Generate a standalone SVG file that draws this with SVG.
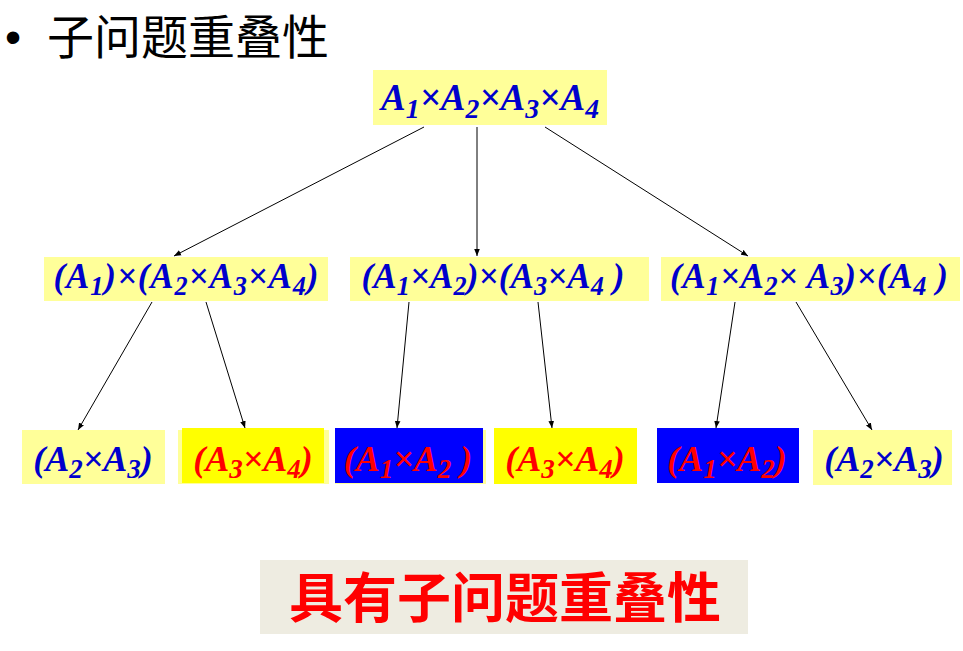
<svg xmlns="http://www.w3.org/2000/svg" width="963" height="651" viewBox="0 0 963 651">
<defs>
<marker id="arr" viewBox="0 0 10 10" refX="10" refY="5" markerWidth="7" markerHeight="7" markerUnits="userSpaceOnUse" orient="auto">
<path d="M0,1 L10,5 L0,9 Z" fill="#000"/>
</marker>
<style>
.m{font-family:"Liberation Serif","Times New Roman",serif;font-weight:bold;font-style:italic;text-anchor:middle}
.b{fill:#0000CC}
.r{fill:#FF0000}
.l1{font-size:37px}
.l2{font-size:35px}
.l3{font-size:36px}
.s{font-size:0.75em}
.pale{fill:#FFFF99}
.yel{fill:#FFFF00}
.blu{fill:#0000FF}
.cn{font-family:"Noto Sans CJK SC","Noto Sans CJK TC",sans-serif}
.conn line{stroke:#000;stroke-width:1;marker-end:url(#arr)}
</style>
</defs>
<rect width="963" height="651" fill="#FFFFFF"/>

<g id="title">
<text x="5" y="53" font-family="Liberation Sans, Arial, sans-serif" font-size="46" fill="#000">•</text>
<text x="47" y="54" class="cn" font-size="47" fill="#000">子问题重叠性</text>
</g>

<g id="n-root">
<rect x="373" y="70" width="234" height="55" class="pale"/>
<text x="490" y="110" class="m b l1" textLength="218">A<tspan class="s" dy="8">1</tspan><tspan dy="-8">×A</tspan><tspan class="s" dy="8">2</tspan><tspan dy="-8">×A</tspan><tspan class="s" dy="8">3</tspan><tspan dy="-8">×A</tspan><tspan class="s" dy="8">4</tspan></text>
</g>

<g id="n-l2a">
<rect x="44" y="257" width="284" height="44" class="pale"/>
<text x="186" y="288" class="m b l2" textLength="265">(A<tspan class="s" dy="7">1</tspan><tspan dy="-7">)×(A</tspan><tspan class="s" dy="7">2</tspan><tspan dy="-7">×A</tspan><tspan class="s" dy="7">3</tspan><tspan dy="-7">×A</tspan><tspan class="s" dy="7">4</tspan><tspan dy="-7">)</tspan></text>
</g>

<g id="n-l2b">
<rect x="350" y="257" width="299" height="44" class="pale"/>
<text x="493" y="288" class="m b l2" textLength="263">(A<tspan class="s" dy="7">1</tspan><tspan dy="-7">×A</tspan><tspan class="s" dy="7">2</tspan><tspan dy="-7">)×(A</tspan><tspan class="s" dy="7">3</tspan><tspan dy="-7">×A</tspan><tspan class="s" dy="7">4</tspan><tspan dy="-7"> )</tspan></text>
</g>

<g id="n-l2c">
<rect x="661" y="257" width="299" height="44" class="pale"/>
<text x="809" y="288" class="m b l2" textLength="278">(A<tspan class="s" dy="7">1</tspan><tspan dy="-7">×A</tspan><tspan class="s" dy="7">2</tspan><tspan dy="-7">× A</tspan><tspan class="s" dy="7">3</tspan><tspan dy="-7">)×(A</tspan><tspan class="s" dy="7">4</tspan><tspan dy="-7"> )</tspan></text>
</g>

<g id="n-l3a">
<rect x="22" y="430" width="143" height="54" class="pale"/>
<text x="93" y="471" class="m b l3">(A<tspan class="s" dy="7">2</tspan><tspan dy="-7">×A</tspan><tspan class="s" dy="7">3</tspan><tspan dy="-7">)</tspan></text>
</g>

<g id="n-l3b">
<rect x="178" y="430" width="151" height="54" class="pale"/>
<rect x="182" y="428" width="142" height="55" class="yel"/>
<text x="253" y="471" class="m r l3">(A<tspan class="s" dy="7">3</tspan><tspan dy="-7">×A</tspan><tspan class="s" dy="7">4</tspan><tspan dy="-7">)</tspan></text>
</g>

<g id="n-l3c">
<rect x="335" y="430" width="151" height="54" class="pale"/>
<rect x="335" y="428" width="148" height="55" class="blu"/>
<text x="408" y="471" class="m r l3">(A<tspan class="s" dy="7">1</tspan><tspan dy="-7">×A</tspan><tspan class="s" dy="7">2</tspan><tspan dy="-7"> )</tspan></text>
</g>

<g id="n-l3d">
<rect x="494" y="428" width="143" height="56" class="yel"/>
<text x="565" y="471" class="m r l3">(A<tspan class="s" dy="7">3</tspan><tspan dy="-7">×A</tspan><tspan class="s" dy="7">4</tspan><tspan dy="-7">)</tspan></text>
</g>

<g id="n-l3e">
<rect x="657" y="428" width="142" height="55" class="blu"/>
<text x="727" y="471" class="m r l3">(A<tspan class="s" dy="7">1</tspan><tspan dy="-7">×A</tspan><tspan class="s" dy="7">2</tspan><tspan dy="-7">)</tspan></text>
</g>

<g id="n-l3f">
<rect x="813" y="430" width="139" height="55" class="pale"/>
<text x="884" y="471" class="m b l3">(A<tspan class="s" dy="7">2</tspan><tspan dy="-7">×A</tspan><tspan class="s" dy="7">3</tspan><tspan dy="-7">)</tspan></text>
</g>

<g id="connectors" class="conn">
<line x1="424" y1="127" x2="174" y2="256"/>
<line x1="477" y1="127" x2="477" y2="256"/>
<line x1="545" y1="127" x2="748" y2="256"/>
<line x1="152" y1="302" x2="78" y2="430"/>
<line x1="206" y1="302" x2="245" y2="428"/>
<line x1="409" y1="302" x2="397" y2="428"/>
<line x1="538" y1="302" x2="552" y2="428"/>
<line x1="735" y1="302" x2="716" y2="428"/>
<line x1="796" y1="302" x2="872" y2="430"/>
</g>

<g id="summary">
<rect x="260" y="560" width="488" height="74" fill="#EEECE1"/>
<text x="505" y="618" class="cn" font-size="54" font-weight="bold" fill="#FF0000" text-anchor="middle">具有子问题重叠性</text>
</g>
</svg>
